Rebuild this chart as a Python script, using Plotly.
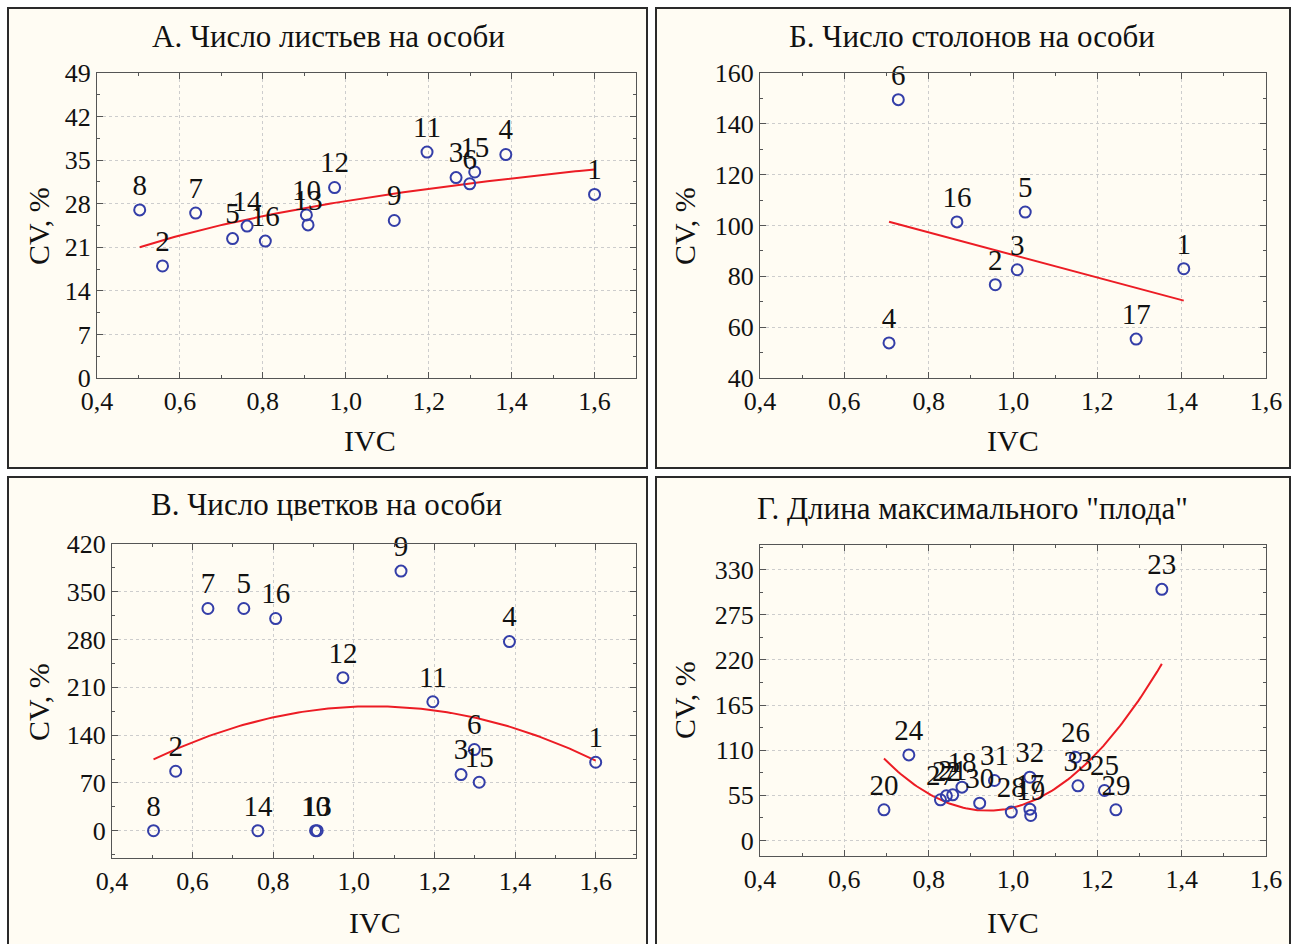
import numpy as np
import plotly.graph_objects as go

W, H = 1298, 944

# ---------------- data ----------------
# Panels А and В: individuals 1..16
ids_a = ["1", "2", "3", "4", "5", "6", "7", "8", "9", "10", "11", "12", "13", "14", "15", "16"]
ivc_a = [1.600, 0.558, 1.266, 1.386, 0.727, 1.299, 0.638, 0.503, 1.117, 0.905, 1.196, 0.973, 0.909, 0.762, 1.311, 0.806]
cv_leaves = [29.5, 18.0, 32.2, 35.9, 22.4, 31.2, 26.5, 27.0, 25.3, 26.2, 36.3, 30.6, 24.6, 24.4, 33.1, 22.0]
cv_flowers = [100.3, 87.1, 82.2, 277.0, 325.5, 118.9, 325.5, 0.0, 380.3, 0.0, 188.9, 224.2, 0.0, 0.0, 71.0, 310.8]

# Panel Б
ids_b = ["1", "2", "3", "4", "5", "6", "16", "17"]
ivc_b = [1.405, 0.958, 1.010, 0.706, 1.029, 0.728, 0.867, 1.292]
cv_stolons = [83.0, 76.7, 82.6, 53.8, 105.3, 149.5, 101.4, 55.3]

# Panel Г
ids_g = ["20", "24", "27", "22", "21", "18", "30", "31", "28", "32", "17", "19", "26", "33", "25", "29", "23"]
ivc_g = [0.694, 0.753, 0.828, 0.842, 0.857, 0.879, 0.921, 0.956, 0.996, 1.040, 1.040, 1.042, 1.148, 1.154, 1.217, 1.244, 1.353]
cv_fruit = [37.3, 104.2, 49.5, 54.3, 55.5, 64.9, 45.4, 73.0, 34.5, 77.0, 38.1, 30.4, 101.3, 66.5, 60.8, 37.3, 306.0]

titles = ["А. Число листьев на особи", "Б. Число столонов на особи",
          "В. Число цветков на особи", "Г. Длина максимального \"плода\""]

# ---------------- style ----------------
FONT = "Liberation Serif"
BLUE = "rgb(52,62,168)"
RED = "rgb(236,28,36)"
CREAM = "#FFFCF3"

fig = go.Figure()

def px_dom_x(a, b):
    return [a / W, b / W]

def px_dom_y(top, bottom):
    return [1 - bottom / H, 1 - top / H]

panels = [
    (ivc_a, cv_leaves, ids_a, "log", (97, 636), (73, 378), [0.4, 1.7], [0, 49], 0, 7),
    (ivc_b, cv_stolons, ids_b, "lin", (760, 1266), (73, 378), [0.4, 1.6], [40, 160], 40, 20),
    (ivc_a, cv_flowers, ids_a, "quad", (112, 636), (544, 858), [0.4, 1.7], [-40, 420], 0, 70),
    (ivc_g, cv_fruit, ids_g, "quad", (760, 1266), (545, 856), [0.4, 1.6], [-19, 360], 0, 55),
]

for i, (xs, ys, labs, kind, xd, yd, xr, yr, yt0, ydt) in enumerate(panels):
    n = "" if i == 0 else str(i + 1)
    xa, ya = "x" + n, "y" + n
    x = np.array(xs)
    y = np.array(ys)
    xx = np.linspace(x.min(), x.max(), 120)
    if kind == "log":
        b, a = np.polyfit(np.log(x), y, 1)
        yy = a + b * np.log(xx)
    elif kind == "lin":
        yy = np.polyval(np.polyfit(x, y, 1), xx)
    else:
        yy = np.polyval(np.polyfit(x, y, 2), xx)

    fig.add_trace(go.Scatter(x=xx, y=yy, mode="lines", line=dict(color=RED, width=2),
                             xaxis=xa, yaxis=ya, showlegend=False, hoverinfo="skip"))
    fig.add_trace(go.Scatter(x=xs, y=ys, mode="markers+text", text=labs,
                             textposition="top center",
                             textfont=dict(family=FONT, size=29, color="#111"),
                             marker=dict(symbol="circle-open", size=11, color=BLUE,
                                         line=dict(width=2, color=BLUE)),
                             cliponaxis=False, xaxis=xa, yaxis=ya, showlegend=False))

    common = dict(ticks="inside", ticklen=6, tickcolor="#555", showline=True, linecolor="#555",
                  linewidth=1, mirror="allticks", showgrid=True, gridcolor="#cdcdcd",
                  griddash="dot", gridwidth=1, zeroline=False, automargin=False,
                  tickfont=dict(family=FONT, size=26, color="#111"))
    fig.layout["xaxis" + n] = dict(domain=px_dom_x(*xd), range=xr, anchor=ya,
                                   tick0=0.4, dtick=0.2, tickformat=".1f",
                                   minor=dict(ticks="inside", ticklen=3, tick0=0.4, dtick=0.1,
                                              tickcolor="#555", showgrid=False),
                                   **common)
    fig.layout["yaxis" + n] = dict(domain=px_dom_y(*yd), range=yr, anchor=xa,
                                   tick0=yt0, dtick=ydt,
                                   minor=dict(ticks="inside", ticklen=3, tick0=yt0, dtick=ydt / 2,
                                              tickcolor="#555", showgrid=False),
                                   **common)

# frames
frames = [(8, 8, 647, 468), (656, 8, 1290, 468), (8, 477, 647, 960), (656, 477, 1290, 960)]
for (x0, y0, x1, y1) in frames:
    fig.add_shape(type="rect", xref="paper", yref="paper",
                  x0=x0 / W, x1=x1 / W, y0=1 - y1 / H, y1=1 - y0 / H,
                  line=dict(color="#2a2a2a", width=2), fillcolor=CREAM, layer="below")

# titles and axis titles
ann = []
title_pos = [(328, 36), (972, 36), (326, 505), (972, 508)]
for t, (cx, cy) in zip(titles, title_pos):
    ann.append(dict(text=t, x=cx / W, y=1 - cy / H, xref="paper", yref="paper",
                    showarrow=False, font=dict(family=FONT, size=31, color="#111"),
                    xanchor="center", yanchor="middle"))
for (cx, cy) in [(370, 441), (1013, 441), (375, 922), (1013, 922)]:
    ann.append(dict(text="IVC", x=cx / W, y=1 - cy / H, xref="paper", yref="paper",
                    showarrow=False, font=dict(family=FONT, size=30, color="#111"),
                    xanchor="center", yanchor="middle"))
for (cx, cy) in [(38, 226), (684, 226), (38, 702), (684, 700)]:
    ann.append(dict(text="CV, %", x=cx / W, y=1 - cy / H, xref="paper", yref="paper",
                    showarrow=False, textangle=-90, font=dict(family=FONT, size=30, color="#111"),
                    xanchor="center", yanchor="middle"))

fig.update_layout(width=W, height=H, margin=dict(l=0, r=0, t=0, b=0, autoexpand=False),
                  paper_bgcolor="white", plot_bgcolor="white", separators=", ",
                  annotations=ann, font=dict(family=FONT, color="#111"))

fig.write_html("out.html", config={"displayModeBar": False},
               post_script="document.body.style.margin='0';document.body.style.overflow='hidden';")
